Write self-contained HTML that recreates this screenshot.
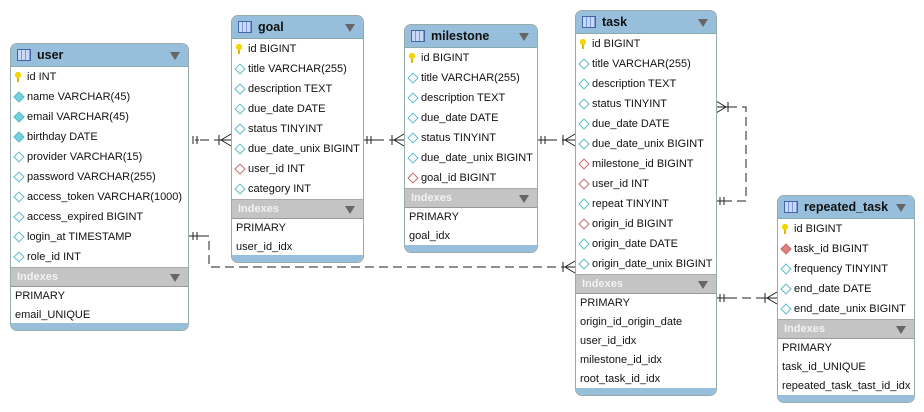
<!DOCTYPE html>
<html><head><meta charset="utf-8"><style>
body{margin:0;width:924px;height:412px;background:#fff;position:relative;overflow:hidden;font-family:"Liberation Sans",sans-serif;font-size:11px;color:#111}
.t{position:absolute;border:1px solid #9aa;border-radius:7px;background:#fff;overflow:hidden;box-sizing:border-box}
.h{background:#97bfdb;height:22px;position:relative;font-weight:bold;font-size:12.5px;line-height:22px;padding-left:26px;border-bottom:1px solid #8aa}
.h:before{content:"";position:absolute;left:6px;top:5px;width:12px;height:10px;border:1px solid #4465a8;background:repeating-linear-gradient(90deg,#c9d8f4 0 3px,#7d9bd6 3px 4px)}
.h:after,.ix:after{content:"";position:absolute;right:8px;top:8px;border-left:5px solid transparent;border-right:5px solid transparent;border-top:8px solid #666}
.r{height:20px;line-height:20px;padding-left:16px;position:relative;white-space:nowrap}
.r i{position:absolute;left:4px;top:6px;width:6px;height:6px;transform:rotate(45deg);border:1px solid #5bbac8;box-sizing:content-box}
.r i.f{background:#6fd3e0}
.r i.rd{border-color:#c76a6a}
.r i.rf{border-color:#c76a6a;background:#e08080}
.r i.k{transform:none;border:none;width:6px;height:10px;top:5px;left:4px;background:radial-gradient(circle at 3px 3px,#f5d400 3px,transparent 3.2px),linear-gradient(#e0b800,#e0b800) 2px 4px/2px 6px no-repeat}
.ix{background:#c4c4c4;color:#f2f2f2;font-weight:bold;height:18px;line-height:18px;padding-left:6px;position:relative;border-top:1px solid #aaa;border-bottom:1px solid #999}
.ix:after{top:6px}
.x{height:19px;line-height:19px;padding-left:4px}
.b{position:absolute;left:0;right:0;bottom:0;height:7px;background:#97bfdb}
svg{position:absolute;left:0;top:0}
</style></head><body>
<svg width="924" height="412" fill="none" stroke="#222" stroke-width="1">
<g stroke-dasharray="9,5">
<path d="M200 140H219"/><path d="M375 140H392"/><path d="M548 140H563"/>
<path d="M200 236H209V267H563"/>
<path d="M728 107H746V201H728"/>
<path d="M728 298H765"/>
</g>
<path d="M193 136v8M197 136v8M199 140h-4M219 140h12M219 135v10M231 134L221 140L231 146"/>
<path d="M367 136v8M371 136v8M363 140h12M392 140h12M392 135v10M404 134L394 140L404 146"/>
<path d="M541 136v8M545 136v8M537 140h11M563 140h12M563 135v10M575 134L565 140L575 146"/>
<path d="M193 232v8M197 232v8M188 236h12"/>
<path d="M563 262v10M575 261L565 267L575 273M563 267h12"/>
<path d="M728 102v10M716 101L726 107L716 113M716 107h12"/>
<path d="M720 197v8M724 197v8M716 201h12"/>
<path d="M720 294v8M724 294v8M716 298h12"/>
<path d="M765 293v10M777 292L767 298L777 304M765 298h12"/>
</svg>

<div class="t" style="left:10px;top:43px;width:179px;height:288px">
<div class="h">user</div>
<div class="r"><i class="k"></i>id INT</div>
<div class="r"><i class="f"></i>name VARCHAR(45)</div>
<div class="r"><i class="f"></i>email VARCHAR(45)</div>
<div class="r"><i class="f"></i>birthday DATE</div>
<div class="r"><i></i>provider VARCHAR(15)</div>
<div class="r"><i></i>password VARCHAR(255)</div>
<div class="r"><i></i>access_token VARCHAR(1000)</div>
<div class="r"><i></i>access_expired BIGINT</div>
<div class="r"><i></i>login_at TIMESTAMP</div>
<div class="r"><i></i>role_id INT</div>
<div class="ix">Indexes</div>
<div class="x">PRIMARY</div><div class="x">email_UNIQUE</div>
<div class="b"></div></div>

<div class="t" style="left:231px;top:15px;width:133px;height:248px">
<div class="h">goal</div>
<div class="r"><i class="k"></i>id BIGINT</div>
<div class="r"><i></i>title VARCHAR(255)</div>
<div class="r"><i></i>description TEXT</div>
<div class="r"><i></i>due_date DATE</div>
<div class="r"><i></i>status TINYINT</div>
<div class="r"><i></i>due_date_unix BIGINT</div>
<div class="r"><i class="rd"></i>user_id INT</div>
<div class="r"><i></i>category INT</div>
<div class="ix">Indexes</div>
<div class="x">PRIMARY</div><div class="x">user_id_idx</div>
<div class="b"></div></div>

<div class="t" style="left:404px;top:24px;width:134px;height:229px">
<div class="h">milestone</div>
<div class="r"><i class="k"></i>id BIGINT</div>
<div class="r"><i></i>title VARCHAR(255)</div>
<div class="r"><i></i>description TEXT</div>
<div class="r"><i></i>due_date DATE</div>
<div class="r"><i></i>status TINYINT</div>
<div class="r"><i></i>due_date_unix BIGINT</div>
<div class="r"><i class="rd"></i>goal_id BIGINT</div>
<div class="ix">Indexes</div>
<div class="x">PRIMARY</div><div class="x">goal_idx</div>
<div class="b"></div></div>

<div class="t" style="left:575px;top:10px;width:142px;height:386px">
<div class="h">task</div>
<div class="r"><i class="k"></i>id BIGINT</div>
<div class="r"><i></i>title VARCHAR(255)</div>
<div class="r"><i></i>description TEXT</div>
<div class="r"><i></i>status TINYINT</div>
<div class="r"><i></i>due_date DATE</div>
<div class="r"><i></i>due_date_unix BIGINT</div>
<div class="r"><i class="rd"></i>milestone_id BIGINT</div>
<div class="r"><i class="rd"></i>user_id INT</div>
<div class="r"><i></i>repeat TINYINT</div>
<div class="r"><i class="rd"></i>origin_id BIGINT</div>
<div class="r"><i></i>origin_date DATE</div>
<div class="r"><i></i>origin_date_unix BIGINT</div>
<div class="ix">Indexes</div>
<div class="x">PRIMARY</div><div class="x">origin_id_origin_date</div><div class="x">user_id_idx</div><div class="x">milestone_id_idx</div><div class="x">root_task_id_idx</div>
<div class="b"></div></div>

<div class="t" style="left:777px;top:195px;width:138px;height:208px">
<div class="h">repeated_task</div>
<div class="r"><i class="k"></i>id BIGINT</div>
<div class="r"><i class="rf"></i>task_id BIGINT</div>
<div class="r"><i></i>frequency TINYINT</div>
<div class="r"><i></i>end_date DATE</div>
<div class="r"><i></i>end_date_unix BIGINT</div>
<div class="ix">Indexes</div>
<div class="x">PRIMARY</div><div class="x">task_id_UNIQUE</div><div class="x">repeated_task_tast_id_idx</div>
<div class="b"></div></div>
</body></html>
